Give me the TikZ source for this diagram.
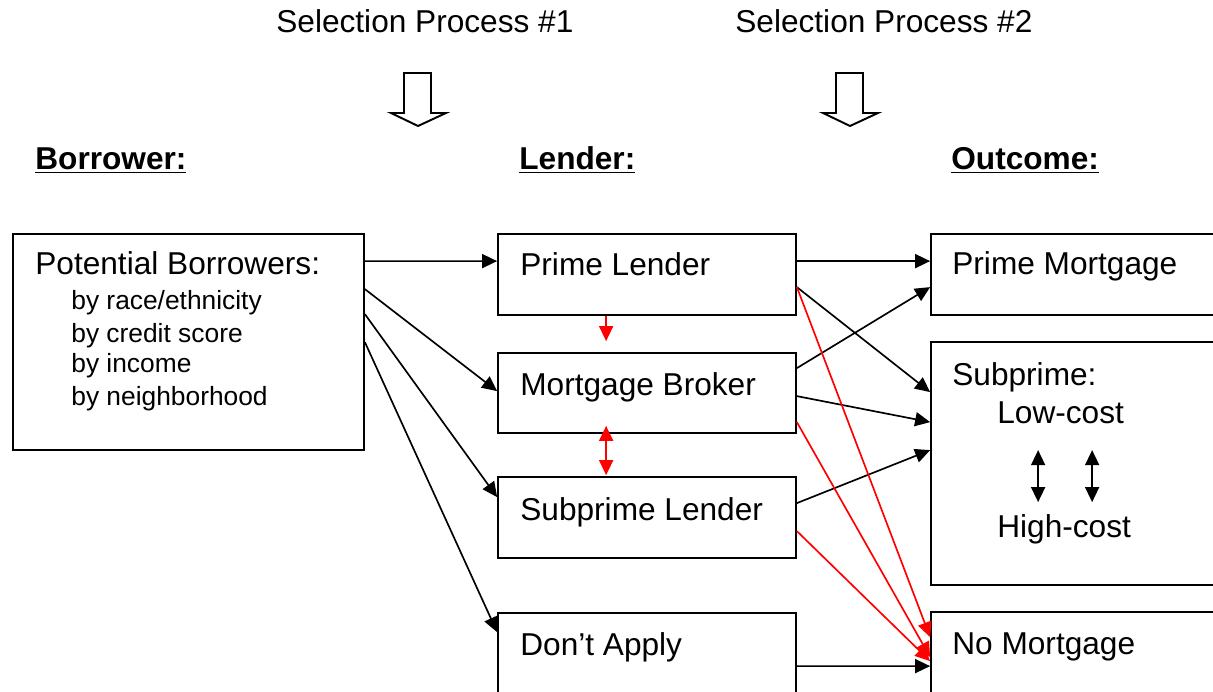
\documentclass[tikz,border=0pt]{standalone}
\usepackage{fontspec}
\setmainfont{Liberation Sans}
\usetikzlibrary{arrows.meta,calc,fit}

\begin{document}
\begin{tikzpicture}[x=0.02cm,y=-0.02cm,
  box/.style={draw, line width=1pt, inner sep=0pt},
  lbl/.style={anchor=base west, inner sep=0pt, font=\fontsize{18}{20}\selectfont},
  sublbl/.style={anchor=base west, inner sep=0pt, font=\fontsize{15}{17}\selectfont},
  head/.style={anchor=base west, inner sep=0pt, font=\bfseries\fontsize{18}{20}\selectfont},
  tip/.tip={Triangle[length=0.3cm,width=0.28cm]},
  conn/.style={line width=0.95pt, -tip},
  redconn/.style={conn, red},
  dbl/.style={line width=0.95pt, tip-tip},
  reddbl/.style={dbl, red},
  hollow/.style={draw, line width=1.1pt, line join=miter, fill=white}]
\useasboundingbox (0,0) rectangle (1213,692);
\clip (0,0) rectangle (1213,692);

% selection process captions and hollow arrows
\node[lbl] (sp1) at (276,33) {Selection Process \#1};
\node[lbl] (sp2) at (735,33) {Selection Process \#2};
\draw[hollow] (404,73) -- (431,73) -- (431,113) -- (446,113) -- (418,126) -- (391,113) -- (404,113) -- cycle;
\draw[hollow] (836,73) -- (863,73) -- (863,113) -- (878,113) -- (850,126) -- (823,113) -- (836,113) -- cycle;

% column headings
\node[head] (hb) at (35,170) {\underline{Borrower:}};
\node[head] (hl) at (519,170) {\underline{Lender:}};
\node[head] (ho) at (951,170) {\underline{Outcome:}};

% boxes
\node[box, fit={(13,234) (364,450)}] (pb) {};
\node[box, fit={(498,234) (796,315)}] (pl) {};
\node[box, fit={(498,353) (796,433)}] (mb) {};
\node[box, fit={(498,477) (796,558)}] (sl) {};
\node[box, fit={(498,613) (796,720)}] (da) {};
\node[box, fit={(931,234) (1240,315)}] (pm) {};
\node[box, fit={(931,342) (1240,585)}] (sub) {};
\node[box, fit={(931,612) (1240,720)}] (nm) {};

% box texts
\node[lbl] (tpb) at (35,275) {Potential Borrowers:};
\node[sublbl] (t1) at (71,310) {by race/ethnicity};
\node[sublbl] (t2) at (71,342) {by credit score};
\node[sublbl] (t3) at (71,373) {by income};
\node[sublbl] (t4) at (71,405) {by neighborhood};
\node[lbl] (tpl) at (520,276) {Prime Lender};
\node[lbl] (tmb) at (520,395) {Mortgage Broker};
\node[lbl] (tsl) at (520,520) {Subprime Lender};
\node[lbl] (tda) at (520,655) {Don’t Apply};
\node[lbl] (tpm) at (952,275) {Prime Mortgage};
\node[lbl] (tsub) at (952,385) {Subprime:};
\node[lbl] (tlow) at (997,423) {Low-cost};
\node[lbl] (thigh) at (997,537) {High-cost};
\node[lbl] (tnm) at (952,654) {No Mortgage};

% borrowers to lenders
\draw[conn] ($(pb.north east)+(0,28)$) -- ($(pl.north west)+(0,28)$);
\draw[conn] ($(pb.north east)+(0,56)$) -- ($(mb.north west)+(0,39)$);
\draw[conn] ($(pb.north east)+(0,81)$) -- ($(sl.north west)+(0,21)$);
\draw[conn] ($(pb.north east)+(0,109)$) -- ($(da.north west)+(0,20)$);

% lenders to outcomes
\draw[conn] ($(pl.north east)+(0,28)$) -- ($(pm.north west)+(0,28)$);
\draw[conn] ($(pl.north east)+(0,54)$) -- ($(sub.north west)+(0,51)$);
\draw[conn] ($(mb.north east)+(0,16)$) -- ($(pm.north west)+(0,54)$);
\draw[conn] ($(mb.north east)+(0,44)$) -- ($(sub.north west)+(0,81)$);
\draw[conn] ($(sl.north east)+(0,27)$) -- ($(sub.north west)+(0,109)$);
\draw[conn] ($(da.north east)+(0,54)$) -- ($(nm.north west)+(0,55)$);

% paths to no mortgage
\draw[redconn] ($(pl.north east)+(0,54)$) -- ($(nm.north west)+(0,26)$);
\draw[redconn] ($(mb.north east)+(0,70)$) -- ($(nm.north west)+(0,46)$);
\draw[redconn] ($(sl.north east)+(0,55)$) -- ($(nm.north west)+(0,50)$);

% referrals between lenders
\draw[redconn] ($(pl.south west)+(109,0)$) -- ($(mb.north west)+(109,-11)$);
\draw[reddbl] ($(mb.south west)+(109,-8)$) -- ($(sl.north west)+(109,-1)$);

% low-cost / high-cost movement
\draw[dbl] ($(sub.north west)+(108,109)$) -- ($(sub.north west)+(108,161)$);
\draw[dbl] ($(sub.north west)+(162,109)$) -- ($(sub.north west)+(162,161)$);
\end{tikzpicture}
\end{document}
